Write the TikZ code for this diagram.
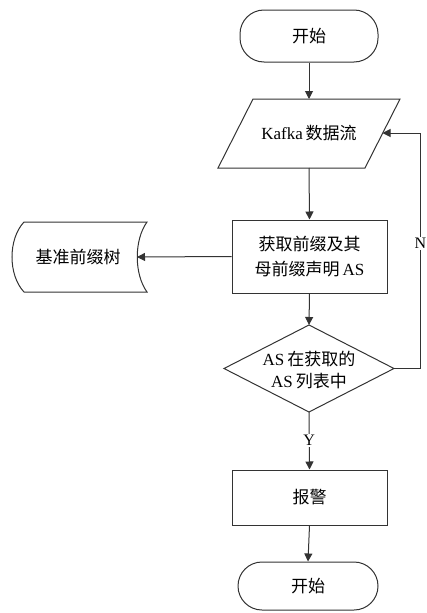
\documentclass[tikz,border=0pt]{standalone}
\usepackage{fontspec}
\setmainfont{Liberation Serif}
\newfontfamily\cjk{Noto Sans CJK SC}
\usetikzlibrary{arrows.meta}
\begin{document}
\begin{tikzpicture}[x=1pt,y=-1pt,
  line/.style={draw=black!80, line width=1pt},
  arr/.style={line, -{Triangle[length=8pt,width=8pt]}},
  txt/.style={font=\fontsize{17}{25}\selectfont, align=center, inner sep=0pt},
  lbl/.style={font=\fontsize{16}{18}\selectfont, fill=white, inner sep=1.5pt},
  term/.style={line, txt, rounded corners=24pt},
  proc/.style={line, txt, minimum width=155pt}]
\useasboundingbox (0,0) rectangle (427,613);
% start
\node[term, minimum width=138pt, minimum height=52pt] (start) at (309,36) {\cjk 开始};
% parallelogram
\draw[line] (253,99) -- (400,99) -- (365,168) -- (218,168) -- cycle;
\node[txt] (kafka) at (309,133) {Kafka\,{\cjk 数据流}};
\coordinate (kT) at (309,99);
\coordinate (kB) at (309,168);
\coordinate (kR) at (382.5,133);
% process
\node[proc, minimum height=73pt] (proc) at (309.5,256.5) {{\cjk 获取前缀及其}\\{\cjk 母前缀声明}\,AS};
% storage
\draw[line] (24,222) -- (147,222) .. controls (134,240) and (134,274) .. (147,292)
  -- (24,292) .. controls (8,275) and (8,239) .. (24,222) -- cycle;
\node[txt] (store) at (78,257) {\cjk 基准前缀树};
\coordinate (storeR) at (137,257);
% decision
\draw[line] (224,368.5) -- (309,325) -- (394,368.5) -- (309,412) -- cycle;
\node[txt, font=\fontsize{17}{22}\selectfont] (dec) at (309,370) {AS\,{\cjk 在获取的}\\AS\,{\cjk 列表中}};
\coordinate (dT) at (309,325);
\coordinate (dB) at (309,412);
\coordinate (dR) at (394,368.5);
\coordinate (nb) at (420,368.5);
\coordinate (nt) at (420,133);
% alarm
\node[proc, minimum height=55pt] (alarm) at (309.5,497.5) {\cjk 报警};
% end
\node[term, minimum width=140pt, minimum height=48pt] (endt) at (308,586) {\cjk 开始};
% connectors
\draw[arr] (start.south) -- (kT);
\draw[arr] (kB) -- (proc.north);
\draw[arr] (proc.west) -- (storeR);
\draw[arr] (proc.south) -- (dT);
\draw[arr] (dB) -- node[lbl] {Y} (alarm.north);
\draw[arr] (dR) -- (nb) -- node[lbl, pos=0.53, xshift=0.5pt] {N} (nt) -- (kR);
\draw[arr] (alarm.south) -- (endt.north);
\end{tikzpicture}
\end{document}
